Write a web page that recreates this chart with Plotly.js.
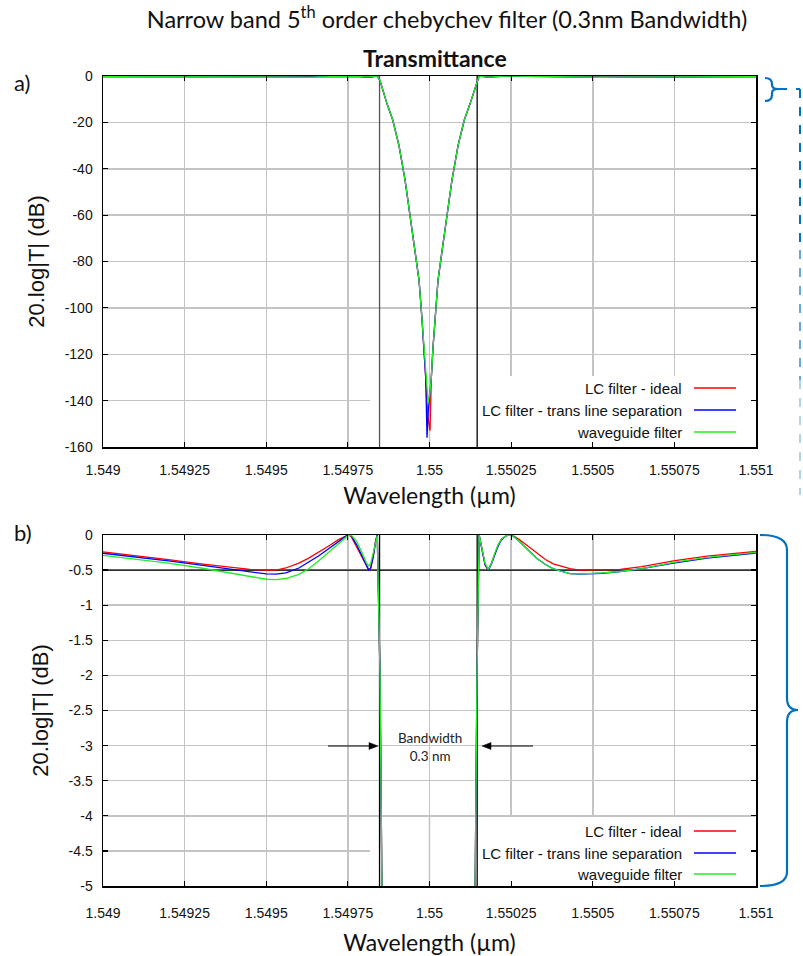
<!DOCTYPE html>
<html><head><meta charset="utf-8">
<script src="https://cdn.plot.ly/plotly-3.0.1.min.js"></script>
<style>html,body{margin:0;padding:0;background:#fff}#chart{width:803px;height:956px}</style>
</head><body><div id="chart"></div>
<script>
// ---------------- DATA ----------------
const wavelength = [
  1.54900, 1.54910, 1.54920, 1.54930, 1.54940, 1.54945, 1.54950, 1.54953, 1.54956, 1.54960,
  1.54963, 1.54966, 1.54969, 1.54972, 1.54974, 1.54975, 1.54976, 1.549777, 1.549797, 1.549807,
  1.549814, 1.549820, 1.549828, 1.549835, 1.549840,
  1.5498485, 1.5498561, 1.5498699, 1.5498874, 1.5499066, 1.5499253, 1.5499452, 1.5499679, 1.5499771, 1.5499832, 1.5499884,
  1.5499924, 1.549996, 1.5500016,
  1.5500056, 1.5500108, 1.5500169, 1.5500261, 1.5500488, 1.5500687, 1.5500874, 1.5501066, 1.5501241, 1.5501379, 1.5501455,
  1.550152, 1.55016, 1.55017, 1.55018, 1.55019, 1.55020, 1.55021, 1.55022, 1.550235, 1.550248,
  1.55026, 1.550277, 1.55030, 1.550328, 1.550355, 1.550379, 1.550405, 1.55043, 1.55046, 1.550492,
  1.55053, 1.550584, 1.55065, 1.550747, 1.55085, 1.550992, 1.551
];
const lcIdeal = [
  -0.24, -0.29, -0.35, -0.41, -0.46, -0.49, -0.50, -0.50, -0.47, -0.40,
  -0.33, -0.25, -0.16, -0.07, -0.02, 0, -0.02, -0.17, -0.36, -0.45,
  -0.50, -0.47, -0.30, -0.08, 0,
  -2, -6, -12, -19, -30, -45, -65, -88, -105, -117, -130,
  -141, -148, -153,
  -130, -117, -105, -88, -65, -45, -30, -19, -12, -6, -2,
  0, -0.20, -0.42, -0.50, -0.40, -0.27, -0.15, -0.06, -0.01, 0,
  -0.02, -0.07, -0.15, -0.26, -0.35, -0.41, -0.45, -0.48, -0.50, -0.50,
  -0.50, -0.49, -0.45, -0.37, -0.30, -0.24, -0.235
];
const lcTransLine = [
  -0.26, -0.31, -0.37, -0.43, -0.49, -0.53, -0.555, -0.557, -0.54, -0.47,
  -0.39, -0.30, -0.20, -0.09, -0.03, 0, -0.01, -0.14, -0.34, -0.44,
  -0.50, -0.47, -0.30, -0.09, 0,
  -2, -6, -12, -19, -30, -45, -65, -88, -105, -117, -130,
  -156, -145, -136,
  -130, -117, -105, -88, -65, -45, -30, -19, -12, -6, -2,
  0, -0.20, -0.42, -0.50, -0.41, -0.28, -0.16, -0.07, -0.01, 0,
  -0.03, -0.10, -0.20, -0.33, -0.42, -0.48, -0.52, -0.55, -0.557, -0.555,
  -0.545, -0.52, -0.48, -0.40, -0.33, -0.26, -0.255
];
const waveguide = [
  -0.29, -0.34, -0.40, -0.47, -0.55, -0.60, -0.63, -0.635, -0.62, -0.56,
  -0.48, -0.37, -0.25, -0.12, -0.04, -0.01, 0, -0.09, -0.29, -0.40,
  -0.44, -0.40, -0.25, -0.08, -0.01,
  -2, -6, -12, -19, -30, -45, -65, -88, -105, -117, -130,
  -136, -141, -136,
  -130, -117, -105, -88, -65, -45, -30, -19, -12, -6, -2,
  0, -0.18, -0.40, -0.49, -0.40, -0.26, -0.14, -0.06, -0.01, 0,
  -0.03, -0.10, -0.20, -0.33, -0.42, -0.48, -0.52, -0.55, -0.555, -0.55,
  -0.54, -0.52, -0.48, -0.39, -0.32, -0.25, -0.245
];
const seriesNames = ["LC filter - ideal", "LC filter - trans line separation", "waveguide filter"];
const seriesColors = ["#ff0000", "#0000ff", "#22ee22"];
const xTickVals = [1.549, 1.54925, 1.5495, 1.54975, 1.55, 1.55025, 1.5505, 1.55075, 1.551];
const xTickText = ["1.549", "1.54925", "1.5495", "1.54975", "1.55", "1.55025", "1.5505", "1.55075", "1.551"];
const yTopTickVals = [0, -20, -40, -60, -80, -100, -120, -140, -160];
const yTopTickText = ["0", "-20", "-40", "-60", "-80", "-100", "-120", "-140", "-160"];
const yBotTickVals = [0, -0.5, -1, -1.5, -2, -2.5, -3, -3.5, -4, -4.5, -5];
const yBotTickText = ["0", "-0.5", "-1", "-1.5", "-2", "-2.5", "-3", "-3.5", "-4", "-4.5", "-5"];
const bandEdges = [1.549847, 1.550146];
const rippleLevel = -0.5;
const bandwidthLabel = "Bandwidth<br>0.3 nm";

// ---------------- CHART ----------------
const seriesValues = [lcIdeal, lcTransLine, waveguide];
const traces = [];
[["x", "y"], ["x2", "y2"]].forEach(([xa, ya]) => {
  seriesValues.forEach((vals, i) => {
    traces.push({
      type: "scatter", mode: "lines", x: wavelength, y: vals,
      xaxis: xa, yaxis: ya, name: seriesNames[i], showlegend: false,
      line: {color: seriesColors[i], width: 1.3}, hoverinfo: "skip"
    });
  });
});

const L = 103, R = 756, T = 76, B = 886;
const px = v => (v - L) / (R - L);
const py = v => (B - v) / (B - T);

const tickFont = {family: "Liberation Sans, Arial, sans-serif", size: 14, color: "#111"};
const gridColor = "#c4c4c4";
function xAxis(anchor, labelStandoff, titleStandoff) {
  return {
    anchor: anchor, domain: [0, 1], range: [1.549, 1.551], tickvals: xTickVals, ticktext: xTickText,
    showgrid: true, gridcolor: gridColor, gridwidth: 1.5, zeroline: false,
    showline: true, linecolor: "#000", linewidth: 1.5, mirror: "ticks",
    ticks: "inside", ticklen: 5, tickwidth: 1.2, tickcolor: "#000",
    tickfont: tickFont, ticklabelstandoff: labelStandoff,
    title: {text: "Wavelength (µm)", font: {family: "Lato, sans-serif", size: 23, color: "#111"}, standoff: titleStandoff}
  };
}
function yAxis(anchor, domain, range, vals, text) {
  return {
    anchor: anchor, domain: domain, range: range, tickvals: vals, ticktext: text,
    showgrid: true, gridcolor: gridColor, gridwidth: 1.5, zeroline: false,
    showline: true, linecolor: "#000", linewidth: 1.5, mirror: "ticks",
    ticks: "inside", ticklen: 5, tickwidth: 1.2, tickcolor: "#000",
    tickfont: tickFont, ticklabelstandoff: 6,
    title: {text: "20.log|T| (dB)", font: {family: "Liberation Sans, Arial, sans-serif", size: 22, color: "#111"}, standoff: 14}
  };
}

const shapes = [];
// legend background boxes (cover gridlines), centre gridline re-drawn, band edge lines
[["x", "y", -160, 0, -129.4, "#555"], ["x2", "y2", -5, 0, -4.017, "#000"]].forEach(([xa, ya, ymin, ymax, y1, leftCol]) => {
  shapes.push({type: "rect", xref: xa, yref: ya, x0: 1.549818, x1: 1.551, y0: ymin, y1: y1,
    fillcolor: "#fff", line: {width: 0}, layer: "between"});
  shapes.push({type: "line", xref: xa, yref: ya, x0: 1.55, x1: 1.55, y0: ymin, y1: y1,
    line: {color: gridColor, width: 1.5}, layer: "between"});
  shapes.push({type: "line", xref: xa, yref: ya, x0: bandEdges[0], x1: bandEdges[0], y0: ymin, y1: ymax,
    line: {color: leftCol, width: 1.3}, layer: "between"});
  shapes.push({type: "line", xref: xa, yref: ya, x0: bandEdges[1], x1: bandEdges[1], y0: ymin, y1: ymax,
    line: {color: "#000", width: 1.3}, layer: "between"});
});
shapes.push({type: "line", xref: "x2", yref: "y2", x0: 1.549, x1: 1.551, y0: rippleLevel, y1: rippleLevel,
  line: {color: "#000", width: 1.2}, layer: "between"});

// legend samples
const legendRowsTop = [388, 410, 432];
const legendRowsBot = [831, 853, 874];
const annotations = [];
[legendRowsTop, legendRowsBot].forEach(rows => {
  rows.forEach((r, i) => {
    shapes.push({type: "line", xref: "paper", yref: "paper", x0: px(694), x1: px(736), y0: py(r), y1: py(r),
      line: {color: seriesColors[i], width: 1.5}});
    annotations.push({xref: "paper", yref: "paper", x: px(684), y: py(r), xanchor: "right", yanchor: "middle",
      showarrow: false, text: seriesNames[i], font: {family: "Liberation Sans, Arial, sans-serif", size: 15, color: "#111"}});
  });
});

// bandwidth arrows (decoration)
[[328, 378], [533, 482]].forEach(([tail, head]) => {
  const dir = head > tail ? 1 : -1;
  shapes.push({type: "line", xref: "paper", yref: "paper", x0: px(tail), x1: px(head - dir * 6), y0: py(746), y1: py(746),
    line: {color: "#000", width: 1.1}});
  shapes.push({type: "path", xref: "paper", yref: "paper", fillcolor: "#000", line: {color: "#000", width: 0.5},
    path: `M ${px(head)} ${py(746)} L ${px(head - dir * 9)} ${py(742.5)} L ${px(head - dir * 9)} ${py(749.5)} Z`});
});

// blue braces (decoration)
const blue = "#0070c0";
shapes.push({type: "path", xref: "paper", yref: "paper", line: {color: blue, width: 2.2},
  path: `M ${px(765)} ${py(78)} Q ${px(772)} ${py(78)} ${px(772)} ${py(84)} L ${px(772)} ${py(85)} Q ${px(772)} ${py(89)} ${px(778)} ${py(89)} Q ${px(772)} ${py(89)} ${px(772)} ${py(93)} L ${px(772)} ${py(95)} Q ${px(772)} ${py(101)} ${px(765)} ${py(101)}`});
shapes.push({type: "line", xref: "paper", yref: "paper", x0: px(778), x1: px(800), y0: py(89), y1: py(89),
  line: {color: blue, width: 2, dash: "dash"}});
[[89, 250, 1], [250, 380, 0.6], [380, 495, 0.3]].forEach(([a, b, op]) => {
  shapes.push({type: "line", xref: "paper", yref: "paper", x0: px(800), x1: px(800), y0: py(a), y1: py(b),
    opacity: op, line: {color: blue, width: 2, dash: "dash"}});
});
shapes.push({type: "path", xref: "paper", yref: "paper", line: {color: blue, width: 2.2},
  path: `M ${px(760)} ${py(535)} Q ${px(787)} ${py(535)} ${px(787)} ${py(550)} L ${px(787)} ${py(698)} Q ${px(787)} ${py(710)} ${px(798)} ${py(710)} Q ${px(787)} ${py(710)} ${px(787)} ${py(722)} L ${px(787)} ${py(872)} Q ${px(787)} ${py(886)} ${px(760)} ${py(886)}`});

// text annotations
annotations.push({xref: "paper", yref: "paper", x: px(435), y: py(58), xanchor: "center", yanchor: "middle",
  showarrow: false, text: "<b>Transmittance</b>", font: {family: "Lato, sans-serif", size: 23, color: "#111"}});
annotations.push({xref: "paper", yref: "paper", x: px(12), y: py(82), xanchor: "left", yanchor: "middle",
  showarrow: false, text: "a)", font: {family: "Lato, sans-serif", size: 22, color: "#111"}});
annotations.push({xref: "paper", yref: "paper", x: px(12), y: py(532), xanchor: "left", yanchor: "middle",
  showarrow: false, text: "b)", font: {family: "Lato, sans-serif", size: 22, color: "#111"}});
annotations.push({xref: "x2", yref: "y2", x: 1.55, y: -3.02, xanchor: "center", yanchor: "middle",
  showarrow: false, text: bandwidthLabel, font: {family: "Lato, sans-serif", size: 13.5, color: "#222"}});

const layout = {
  width: 803, height: 956,
  margin: {l: L, r: 803 - R, t: T, b: 956 - B, pad: 0},
  paper_bgcolor: "#fff", plot_bgcolor: "#fff", showlegend: false,
  title: {text: "Narrow band 5<sup>th</sup> order chebychev filter (0.3nm Bandwidth)",
    font: {family: "Lato, sans-serif", size: 23.5, color: "#111"},
    xref: "container", yref: "container", x: 447 / 803, y: 1 - 20 / 956, xanchor: "center", yanchor: "middle"},
  xaxis: xAxis("y", 10, 10),
  yaxis: yAxis("x", [py(447), 1], [-160, 0], yTopTickVals, yTopTickText),
  xaxis2: xAxis("y2", 14, 14),
  yaxis2: yAxis("x2", [0, py(535)], [-5, 0], yBotTickVals, yBotTickText),
  shapes: shapes, annotations: annotations
};
Plotly.newPlot("chart", traces, layout, {displayModeBar: false, staticPlot: true});
</script>
</body></html>
